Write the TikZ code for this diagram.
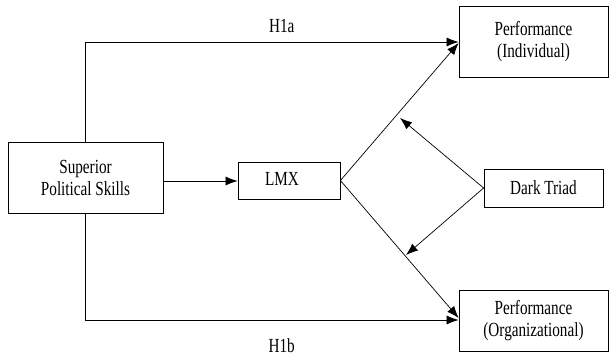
\documentclass[tikz,border=0pt]{standalone}
\usepackage{fontspec}
\setmainfont{Liberation Serif}[FakeStretch=0.76]
\usetikzlibrary{arrows.meta}
\begin{document}
\begin{tikzpicture}[x=1pt,y=-1pt,
  box/.style={draw,line width=0.8pt,rectangle,inner sep=0pt,align=center,font=\fontsize{20}{22}\selectfont},
  conn/.style={line width=0.7pt,-{Latex[length=12pt,width=9pt]}},
  lbl/.style={font=\fontsize{20}{22}\selectfont,inner sep=0pt}]
\useasboundingbox (0,0) rectangle (609,361);
\node[box,minimum width=155pt,minimum height=71pt] (sps) at (85.5,177.5) {Superior\\Political Skills};
\node[box,minimum width=102pt,minimum height=37pt] (lmx) at (289,180.5) {\raisebox{3pt}{LMX}\hspace*{14pt}};
\node[box,minimum width=149pt,minimum height=71pt] (pi) at (533.5,41.5) {Performance\\(Individual)};
\node[box,minimum width=149pt,minimum height=61pt] (po) at (533.5,320.5) {Performance\\(Organizational)};
\node[box,minimum width=119pt,minimum height=38pt] (dt) at (543.5,188) {Dark Triad};
\coordinate (m1) at (400,118);
\coordinate (m2) at (406,255);
\draw[conn] (sps.north) |- (pi.west |- 0,42) node[lbl,pos=0.763,above=9pt] {H1a};
\draw[conn] (sps.south) |- (po.west |- 0,320) node[lbl,pos=0.763,below=18pt] {H1b};
\draw[conn] (sps.east |- 0,181) -- (lmx.west |- 0,181);
\draw[conn] (lmx.east) -- (pi.west |- 0,43);
\draw[conn] (lmx.east) -- (po.west |- 0,318);
\draw[conn] (dt.west) -- (m1);
\draw[conn] (dt.west) -- (m2);
\end{tikzpicture}
\end{document}
